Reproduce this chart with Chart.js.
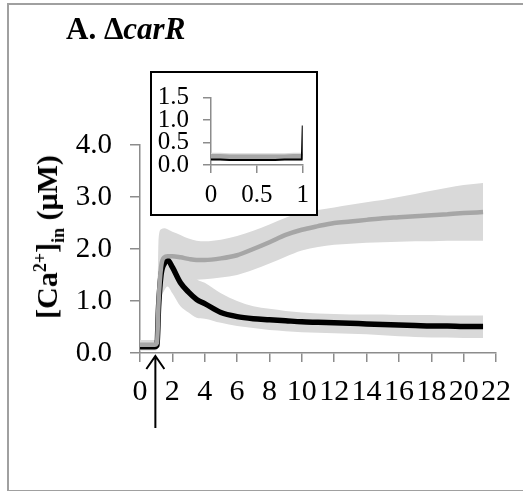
<!DOCTYPE html>
<html>
<head>
<meta charset="utf-8">
<script src="https://cdn.jsdelivr.net/npm/chart.js@4.4.1/dist/chart.umd.min.js"></script>
<style>
  html, body { margin:0; padding:0; background:#fff; width:523px; height:491px; overflow:hidden; }
  #frame { position:absolute; left:7px; top:3px; width:540px; height:485px; border:2px solid #a0a0a0; box-sizing:content-box; }
  #main { position:absolute; left:0; top:0; }
  #title { position:absolute; left:66px; top:14px; font:bold 31px "Liberation Serif", serif; line-height:30px; white-space:nowrap; color:#000; }
  #ytitle { position:absolute; left:47px; top:237px; transform:translate(-50%,-50%) rotate(-90deg); font:bold 30px "Liberation Serif", serif; white-space:nowrap; color:#000; line-height:30px; }
  #ytitle sup, #ytitle sub { font-size:60%; line-height:0; }
  #insetBox { position:absolute; left:150px; top:71px; width:164px; height:141px; border:2px solid #000; background:#fff; }
  #inset { position:absolute; left:0; top:0; }
</style>
</head>
<body>
<div id="frame"></div>
<canvas id="main" width="523" height="491"></canvas>
<div id="title">A. Δ<i>carR</i></div>
<div id="ytitle">[Ca<sup>2+</sup>]<sub>in</sub> (μM)</div>
<div id="insetBox"><canvas id="inset" width="164" height="141"></canvas></div>
<script>
// ---- main chart data (time in min, [Ca2+] in µM) ----
const mainTime   = [0, 0.5, 0.9, 1.05, 1.15, 1.3, 1.5, 1.7, 2.0, 2.5, 3.0, 3.5, 4.0, 5.0, 6.0, 7.0, 8.0, 9.0, 10, 11, 12, 13, 14, 15, 16, 17, 18, 19, 20, 21.2];
const blackMean  = [0.12, 0.12, 0.12, 0.15, 0.9, 1.5, 1.72, 1.79, 1.65, 1.35, 1.17, 1.03, 0.95, 0.78, 0.70, 0.66, 0.64, 0.62, 0.60, 0.59, 0.58, 0.57, 0.56, 0.55, 0.54, 0.53, 0.52, 0.52, 0.51, 0.51];
const blackUpper = [0.2, 0.2, 0.2, 0.25, 1.4, 2.0, 2.25, 2.3, 2.15, 1.85, 1.6, 1.42, 1.35, 1.15, 1.0, 0.9, 0.85, 0.81, 0.78, 0.76, 0.75, 0.74, 0.74, 0.74, 0.73, 0.73, 0.73, 0.72, 0.72, 0.72];
const blackLower = [0.05, 0.05, 0.05, 0.06, 0.4, 1.0, 1.2, 1.28, 1.15, 0.9, 0.78, 0.68, 0.66, 0.58, 0.52, 0.48, 0.44, 0.42, 0.40, 0.39, 0.38, 0.37, 0.36, 0.34, 0.32, 0.31, 0.30, 0.30, 0.29, 0.29];
const grayMean   = [0.16, 0.16, 0.16, 0.2, 1.0, 1.65, 1.84, 1.86, 1.86, 1.84, 1.81, 1.79, 1.79, 1.82, 1.88, 2.0, 2.13, 2.27, 2.37, 2.44, 2.5, 2.53, 2.56, 2.59, 2.61, 2.63, 2.65, 2.67, 2.69, 2.71];
const grayUpper  = [0.25, 0.25, 0.25, 0.3, 2.2, 2.38, 2.4, 2.38, 2.33, 2.27, 2.2, 2.16, 2.15, 2.18, 2.25, 2.35, 2.47, 2.6, 2.7, 2.75, 2.8, 2.85, 2.9, 2.94, 3.0, 3.06, 3.12, 3.18, 3.23, 3.27];
const grayLower  = [0.08, 0.08, 0.08, 0.1, 0.3, 1.1, 1.3, 1.38, 1.42, 1.43, 1.42, 1.41, 1.42, 1.45, 1.5, 1.6, 1.72, 1.85, 1.97, 2.04, 2.08, 2.1, 2.12, 2.13, 2.14, 2.15, 2.15, 2.16, 2.16, 2.16];
const mainYTicks = [0, 1, 2, 3, 4];
const mainXTicks = [0, 2, 4, 6, 8, 10, 12, 14, 16, 18, 20, 22];
const arrowAt = [0.95];

// ---- inset data ----
const insetTime   = [0, 0.1, 0.2, 0.3, 0.4, 0.5, 0.6, 0.7, 0.8, 0.9, 0.99, 1.0];
const insetBlack  = [0.12, 0.12, 0.11, 0.11, 0.11, 0.11, 0.11, 0.11, 0.12, 0.12, 0.12, 0.88];
const insetGray   = [0.19, 0.19, 0.18, 0.18, 0.18, 0.18, 0.18, 0.18, 0.18, 0.19, 0.19, 0.19];
const insetGrayUp = [0.27, 0.27, 0.26, 0.26, 0.26, 0.26, 0.26, 0.26, 0.26, 0.27, 0.27, 0.27];
const insetGrayLo = [0.10, 0.10, 0.10, 0.10, 0.10, 0.10, 0.10, 0.10, 0.10, 0.10, 0.10, 0.10];
const insetYTicks = [0, 0.5, 1.0, 1.5];
const insetXTicks = [0, 0.5, 1];

const toXY = (xs, ys) => xs.map((x, i) => ({x, y: ys[i]}));
const AXIS = '#8c8c8c';
const BAND = '#d9d9d9';
const GRAY = '#a6a6a6';
const FONT = '"Liberation Serif", "Times New Roman", serif';

function lineDS(data, color, width, order) {
  return { data, borderColor: color, borderWidth: width, pointRadius: 0, fill: false,
           cubicInterpolationMode: 'monotone', order };
}
function bandUp(data) {
  return { data, borderWidth: 0, borderColor: 'rgba(0,0,0,0)', backgroundColor: BAND, pointRadius: 0,
           fill: '+1', cubicInterpolationMode: 'monotone', order: 10 };
}
function bandLo(data) {
  return { data, borderWidth: 0, borderColor: 'rgba(0,0,0,0)', pointRadius: 0, fill: false,
           cubicInterpolationMode: 'monotone', order: 10 };
}

const arrowPlugin = {
  id: 'arrow',
  afterDraw(chart) {
    const ctx = chart.ctx;
    const xs = chart.scales.x;
    const bottom = chart.chartArea.bottom;
    arrowAt.forEach(t => {
      const x = xs.getPixelForValue(t);
      ctx.save();
      ctx.strokeStyle = '#000';
      ctx.lineWidth = 2;
      ctx.beginPath();
      ctx.moveTo(x, bottom + 3);
      ctx.lineTo(x, 428);
      ctx.moveTo(x - 9, bottom + 16);
      ctx.lineTo(x, bottom + 3);
      ctx.lineTo(x + 9, bottom + 16);
      ctx.stroke();
      ctx.restore();
    });
  }
};

new Chart(document.getElementById('main'), {
  type: 'line',
  data: {
    datasets: [
      bandUp(toXY(mainTime, grayUpper)),
      bandLo(toXY(mainTime, grayLower)),
      bandUp(toXY(mainTime, blackUpper)),
      bandLo(toXY(mainTime, blackLower)),
      lineDS(toXY(mainTime, blackMean), '#000', 5.5, 2),
      lineDS(toXY(mainTime, grayMean), GRAY, 4.5, 1)
    ]
  },
  options: {
    responsive: false,
    animation: false,
    devicePixelRatio: 1,
    layout: { padding: { left: 0, top: 145, right: 26, bottom: 0 } },
    plugins: { legend: { display: false }, tooltip: { enabled: false }, title: { display: false } },
    scales: {
      x: {
        type: 'linear', min: 0, max: 22,
        afterBuildTicks: s => { s.ticks = mainXTicks.map(v => ({value: v})); },
        afterFit: s => { s.height = 491 - 353; },
        border: { color: AXIS, width: 1.5 },
        grid: { drawOnChartArea: false, drawTicks: true, tickLength: 9, color: AXIS, lineWidth: 1.5 },
        ticks: { font: { family: FONT, size: 30 }, color: '#000', padding: 12, maxRotation: 0, autoSkip: false,
                 callback: v => String(v) }
      },
      y: {
        type: 'linear', min: 0, max: 4,
        afterBuildTicks: s => { s.ticks = mainYTicks.map(v => ({value: v})); },
        afterFit: s => { s.width = 140; },
        border: { color: AXIS, width: 1.5 },
        grid: { drawOnChartArea: false, drawTicks: true, tickLength: 10, color: AXIS, lineWidth: 1.5 },
        ticks: { font: { family: FONT, size: 29 }, color: '#000', padding: 18, autoSkip: false,
                 callback: v => Number(v).toFixed(1) }
      }
    }
  },
  plugins: [arrowPlugin]
});

new Chart(document.getElementById('inset'), {
  type: 'line',
  data: {
    datasets: [
      bandUp(toXY(insetTime, insetGrayUp)),
      bandLo(toXY(insetTime, insetGrayLo)),
      { ...lineDS(toXY(insetTime, insetGray), GRAY, 5, 2), cubicInterpolationMode: 'default', tension: 0 },
      { ...lineDS(toXY(insetTime, insetBlack), '#000', 2, 1), cubicInterpolationMode: 'default', tension: 0 }
    ]
  },
  options: {
    responsive: false,
    animation: false,
    devicePixelRatio: 1,
    layout: { padding: { left: 0, top: 19, right: 9, bottom: 0 } },
    plugins: { legend: { display: false }, tooltip: { enabled: false } },
    scales: {
      x: {
        type: 'linear', min: 0, max: 1,
        afterBuildTicks: s => { s.ticks = insetXTicks.map(v => ({value: v})); },
        afterFit: s => { s.height = 141 - 92; },
        border: { color: AXIS, width: 1.5 },
        grid: { drawOnChartArea: false, drawTicks: true, tickLength: 8, color: AXIS, lineWidth: 1.5 },
        ticks: { font: { family: FONT, size: 25 }, color: '#000', padding: 7, maxRotation: 0, autoSkip: false,
                 callback: v => String(v) }
      },
      y: {
        type: 'linear', min: 0, max: 1.5,
        afterBuildTicks: s => { s.ticks = insetYTicks.map(v => ({value: v})); },
        afterFit: s => { s.width = 59; },
        border: { color: AXIS, width: 1.5 },
        grid: { drawOnChartArea: false, drawTicks: true, tickLength: 8, color: AXIS, lineWidth: 1.5 },
        ticks: { font: { family: FONT, size: 25, lineHeight: 0.85 }, color: '#000', padding: 14, autoSkip: false,
                 callback: v => Number(v).toFixed(1) }
      }
    }
  }
});
</script>
</body>
</html>
